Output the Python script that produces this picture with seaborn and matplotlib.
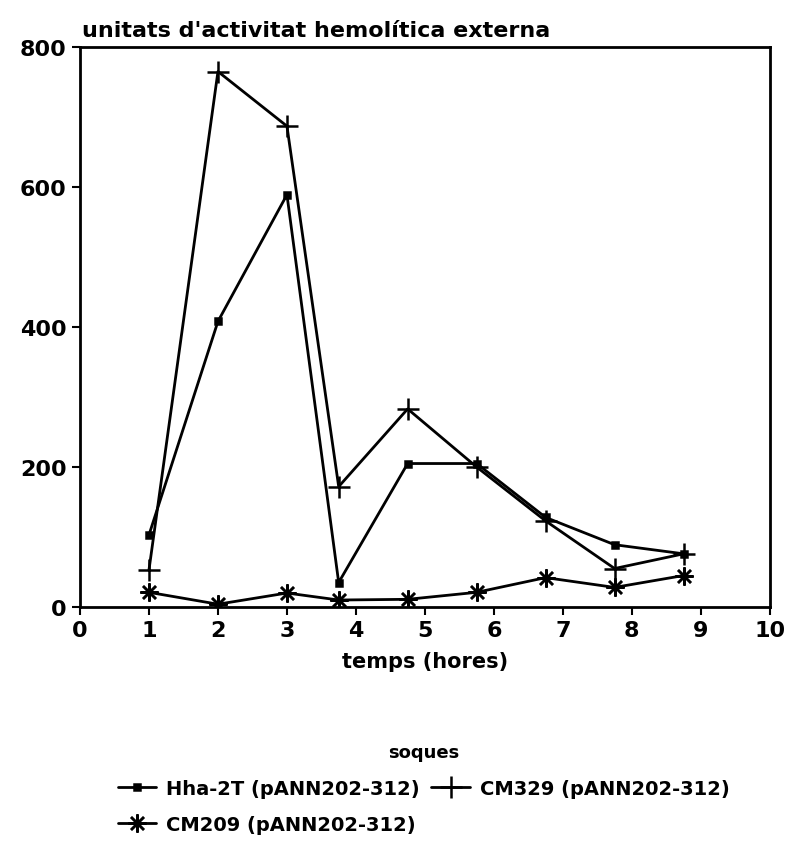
import matplotlib
import matplotlib.pyplot as plt
import pandas as pd
import seaborn as sns

matplotlib.use("Agg")

# hores de mostreig i activitat hemolitica de cada soca
temps = [1, 2, 3, 3.75, 4.75, 5.75, 6.75, 7.75, 8.75]
hha_2t = [103, 408, 589, 35, 205, 205, 128, 89, 76]
cm329 = [53, 765, 687, 172, 283, 200, 123, 55, 76]
cm209 = [21, 4, 20, 10, 11, 21, 42, 28, 45]

soques = ["Hha-2T (pANN202-312)", "CM329 (pANN202-312)", "CM209 (pANN202-312)"]
x_ticks = [0, 1, 2, 3, 4, 5, 6, 7, 8, 9, 10]
y_ticks = [0, 200, 400, 600, 800]

df = pd.DataFrame({
    "temps": temps * 3,
    "activitat": hha_2t + cm329 + cm209,
    "soca": [s for s in soques for _ in temps],
})

sns.set_style("ticks")
plt.rcParams["font.family"] = ["DejaVu Sans"]
plt.rcParams["font.weight"] = "bold"
plt.rcParams["text.color"] = "black"
plt.rcParams["xtick.color"] = "black"
plt.rcParams["ytick.color"] = "black"
plt.rcParams["axes.labelcolor"] = "black"

fig = plt.figure(figsize=(7.92, 8.53), dpi=100)
ax = fig.add_axes([0.101, 0.2872, 0.871, 0.6565])

markers = {soques[0]: "s", soques[1]: "+", soques[2]: (8, 2, 0)}
sizes = {soques[0]: 4, soques[1]: 16, soques[2]: 13}

for s in soques:
    sub = df[df["soca"] == s]
    sns.lineplot(data=sub, x="temps", y="activitat", ax=ax, color="black",
                 marker=markers[s], markersize=sizes[s], markeredgewidth=1.8,
                 markeredgecolor="black", markerfacecolor="black",
                 linewidth=2, label=s, legend=False)

ax.set_xlim(0, 10)
ax.set_ylim(0, 800)
ax.set_xticks(x_ticks)
ax.set_yticks(y_ticks)
ax.tick_params(axis="both", labelsize=16, width=1.5, length=6, color="black")
for sp in ax.spines.values():
    sp.set_visible(True)
    sp.set_linewidth(2)
    sp.set_color("black")

ax.set_xlabel("temps (hores)", fontsize=15, fontweight="bold", labelpad=8)
ax.set_ylabel("")
fig.text(0.104, 0.952, "unitats d'activitat hemolítica externa", fontsize=16,
         fontweight="bold", ha="left", va="bottom")

lines = ax.get_lines()
handles = [lines[0], lines[2], lines[1]]
labels = [soques[0], soques[2], soques[1]]
leg = fig.legend(handles, labels, loc="upper center", bbox_to_anchor=(0.535, 0.148),
                 ncol=2, frameon=False, fontsize=14, title="soques",
                 title_fontsize=13, handlelength=2, columnspacing=0.6,
                 handletextpad=0.5, labelspacing=0.9)
leg.get_title().set_fontweight("bold")

fig.savefig("out.png", dpi=100)
plt.close(fig)
